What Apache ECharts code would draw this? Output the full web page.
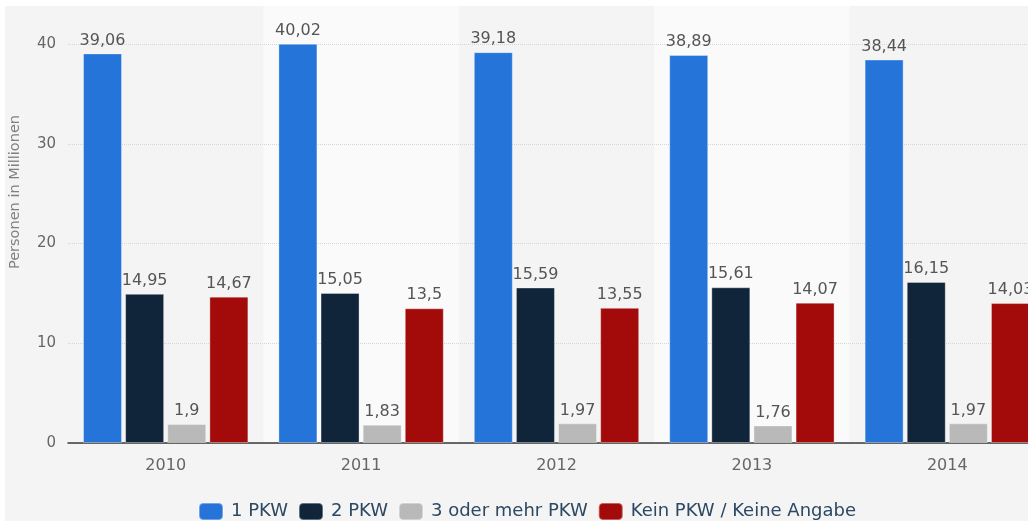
<!DOCTYPE html>
<html>
<head>
<meta charset="utf-8">
<script src="https://cdn.jsdelivr.net/npm/echarts@6/dist/echarts.min.js"></script>
<style>
  html, body { margin: 0; padding: 0; background: #ffffff; overflow: hidden; width: 1028px; height: 521px; }
  #chart { position: absolute; left: 5px; top: 6px; width: 1040px; height: 515px; }
</style>
</head>
<body>
<div id="chart"></div>
<script>
// Personen nach Anzahl PKW im Haushalt (Mio.)
const years = ['2010', '2011', '2012', '2013', '2014'];
const einPkw = [39.06, 40.02, 39.18, 38.89, 38.44];
const zweiPkw = [14.95, 15.05, 15.59, 15.61, 16.15];
const dreiPkw = [1.9, 1.83, 1.97, 1.76, 1.97];
const keinPkw = [14.67, 13.5, 13.55, 14.07, 14.03];
const yTicks = [0, 10, 20, 30, 40];

const names = ['1 PKW', '2 PKW', '3 oder mehr PKW', 'Kein PKW / Keine Angabe'];
const colors = ['#2574d9', '#10243a', '#b9b9b9', '#a30b0b'];
const values = [einPkw, zweiPkw, dreiPkw, keinPkw];

const chart = echarts.init(document.getElementById('chart'));

const comma = v => String(v).replace('.', ',');

const series = names.map((name, i) => ({
  name,
  type: 'bar',
  xAxisIndex: 0,
  yAxisIndex: 0,
  data: values[i],
  barWidth: 39,
  barGap: '8%',
  itemStyle: { color: colors[i], borderColor: 'rgba(255,255,255,0.35)', borderWidth: 1 },
  label: {
    show: true,
    position: 'top',
    distance: 5,
    color: '#555',
    fontSize: 16,
    fontFamily: 'DejaVu Sans',
    formatter: p => comma(p.value)
  },
  z: 3
}));

const option = {
  backgroundColor: '#f4f4f4',
  animation: false,
  textStyle: { fontFamily: 'DejaVu Sans' },
  grid: [
    { left: 63, right: 0, top: 38, bottom: 78 },
    { left: 63, right: 0, top: 0, bottom: 78 }
  ],
  xAxis: [
    {
      type: 'category',
      gridIndex: 0,
      data: years,
      axisLine: { lineStyle: { color: '#3a3a3a', width: 1.5 } },
      axisTick: { show: false },
      axisLabel: { color: '#666', fontSize: 16, margin: 15 },
      z: 2
    },
    {
      type: 'category',
      gridIndex: 1,
      data: years,
      axisLine: { show: false },
      axisTick: { show: false },
      axisLabel: { show: false },
      splitArea: { show: true, areaStyle: { color: ['#f4f4f4', '#fafafa'] } },
      z: 0
    }
  ],
  yAxis: [
    {
      type: 'value',
      gridIndex: 0,
      min: yTicks[0],
      max: yTicks[yTicks.length - 1],
      interval: 10,
      axisLine: { show: false },
      axisTick: { show: false },
      axisLabel: { color: '#666', fontSize: 15, margin: 12 },
      splitLine: { lineStyle: { color: '#d6d6d6', type: 'dotted', width: 1 } },
      z: 2
    },
    {
      type: 'value',
      gridIndex: 1,
      show: false,
      splitLine: { show: false }
    }
  ],
  legend: {
    left: 188,
    top: 491,
    itemWidth: 24,
    itemHeight: 17,
    itemGap: 10,
    icon: 'roundRect',
    data: names,
    textStyle: { color: '#2c4862', fontSize: 18, padding: [0, 0, 0, 3] }
  },
  graphic: [
    {
      type: 'text',
      left: 3,
      top: 109,
      rotation: Math.PI / 2,
      style: {
        text: 'Personen in Millionen',
        fill: '#808080',
        fontSize: 14.5,
        fontFamily: 'DejaVu Sans'
      }
    }
  ],
  series
};

chart.setOption(option);
</script>
</body>
</html>
